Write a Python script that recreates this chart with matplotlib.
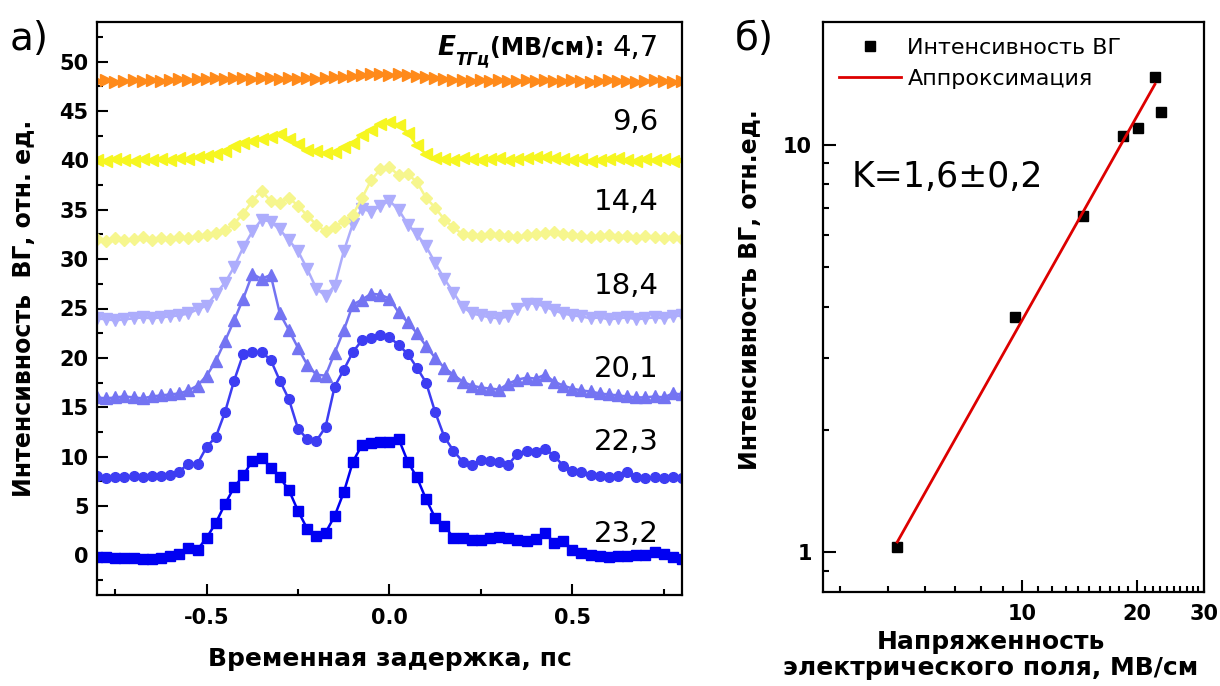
import numpy as np
import matplotlib
matplotlib.use('Agg')
import matplotlib.pyplot as plt
import matplotlib.transforms as mtransforms
from matplotlib.ticker import FixedLocator, FixedFormatter, MultipleLocator, NullFormatter

plt.rcParams['font.family'] = ['DejaVu Sans']

# временная задержка, пс (шаг сканирования 0.025 пс)
delay = np.linspace(-0.8, 0.8, 65)

# сигналы ВГ (со смещением по оси Y, как на рисунке)
sig_23_2 = [-0.2, -0.2, -0.3, -0.3, -0.3, -0.4, -0.4, -0.3, -0.1, 0.2, 0.8, 0.6, 1.8, 3.3, 5.2, 6.9,
            8.1, 9.6, 9.9, 8.9, 7.9, 6.6, 4.5, 2.7, 2.0, 2.3, 4.0, 6.4, 9.5, 11.2, 11.4, 11.5, 11.5,
            11.8, 9.5, 7.9, 5.7, 3.8, 3.0, 1.8, 1.8, 1.6, 1.6, 1.8, 1.9, 1.8, 1.6, 1.5, 1.7, 2.3, 1.3,
            1.5, 0.6, 0.3, 0.0, -0.1, -0.2, -0.1, -0.1, 0.0, 0.0, 0.4, 0.1, -0.2, -0.4]
sig_22_3 = [8.0, 7.8, 7.9, 7.9, 8.0, 7.9, 8.0, 8.0, 8.1, 8.5, 9.3, 9.3, 11.0, 12.0, 14.5, 17.7,
            20.4, 20.6, 20.6, 19.8, 17.7, 15.8, 12.8, 11.8, 11.6, 13.0, 17.1, 18.8, 20.6, 21.8, 22.0,
            22.3, 22.1, 21.3, 20.4, 19.0, 17.5, 14.5, 12.0, 10.6, 9.5, 9.2, 9.7, 9.6, 9.5, 9.2, 10.3,
            10.6, 10.5, 10.8, 10.1, 9.1, 8.6, 8.4, 8.1, 8.0, 7.9, 8.0, 8.4, 7.9, 7.8, 7.9, 7.8, 7.9, 7.8]
sig_20_1 = [16.0, 15.9, 16.0, 16.1, 16.0, 15.9, 16.1, 16.2, 16.3, 16.4, 16.7, 17.2, 18.2, 19.7,
            21.7, 23.8, 26.0, 28.5, 28.0, 28.4, 24.5, 22.8, 21.0, 19.3, 18.3, 18.2, 20.5, 22.8, 25.4,
            25.9, 26.5, 26.4, 26.0, 24.6, 23.6, 22.5, 21.2, 20.0, 19.0, 18.3, 17.6, 17.2, 17.0, 16.9,
            16.8, 17.4, 17.8, 18.0, 17.9, 18.3, 17.6, 17.2, 16.9, 16.7, 16.6, 16.4, 16.3, 16.2, 16.1,
            16.0, 16.0, 16.1, 16.0, 16.4, 16.3]
sig_18_4 = [24.0, 23.9, 23.8, 23.9, 24.0, 24.1, 24.0, 24.1, 24.2, 24.3, 24.5, 24.9, 25.3, 26.5,
            27.6, 29.2, 31.2, 32.8, 34.0, 33.8, 33.0, 31.9, 30.8, 29.0, 27.0, 26.3, 27.3, 30.8, 33.6,
            35.1, 34.8, 35.4, 35.9, 35.0, 33.5, 32.5, 31.3, 29.6, 28.0, 26.6, 25.2, 24.5, 24.3, 24.1,
            24.0, 24.2, 25.0, 25.5, 25.5, 25.2, 24.8, 24.5, 24.3, 24.2, 24.0, 24.1, 23.9, 24.0, 24.1,
            23.9, 24.0, 24.1, 24.0, 24.2, 24.3]
sig_14_4 = [32.0, 31.8, 32.1, 31.9, 32.0, 32.2, 31.9, 32.1, 32.0, 32.2, 32.1, 32.3, 32.4, 32.6,
            32.9, 33.6, 34.6, 35.9, 36.9, 35.9, 35.7, 36.2, 35.4, 34.4, 33.5, 32.8, 33.2, 33.9, 34.5,
            36.2, 38.0, 39.1, 39.3, 38.5, 38.6, 37.8, 36.2, 35.2, 34.0, 33.2, 32.5, 32.4, 32.3, 32.5,
            32.4, 32.3, 32.2, 32.4, 32.5, 32.6, 32.7, 32.5, 32.4, 32.3, 32.2, 32.3, 32.4, 32.2, 32.3,
            32.1, 32.3, 32.2, 32.1, 32.2, 32.0]
sig_9_6 = [40.0, 39.9, 40.1, 40.0, 39.9, 40.1, 40.0, 40.1, 40.0, 40.2, 40.1, 40.3, 40.4, 40.6,
           40.9, 41.4, 41.8, 42.0, 42.2, 42.4, 42.7, 42.2, 41.7, 41.0, 40.9, 40.7, 40.8, 41.3, 41.8,
           42.6, 43.1, 43.7, 43.9, 43.6, 42.8, 41.5, 40.6, 40.2, 40.1, 40.0, 40.2, 40.1, 40.0, 40.1,
           40.2, 40.0, 40.1, 40.2, 40.3, 40.3, 40.2, 40.1, 40.0, 40.1, 39.9, 40.0, 40.1, 40.2, 40.0,
           39.9, 40.1, 40.0, 40.1, 39.9, 40.0]
sig_4_7 = [48.0, 48.1, 47.9, 48.0, 48.1, 48.0, 48.1, 48.0, 48.1, 48.2, 48.1, 48.2, 48.2, 48.3,
           48.2, 48.3, 48.3, 48.2, 48.3, 48.3, 48.2, 48.3, 48.2, 48.3, 48.2, 48.3, 48.4, 48.4, 48.5,
           48.6, 48.7, 48.7, 48.6, 48.7, 48.6, 48.5, 48.4, 48.3, 48.2, 48.1, 48.1, 48.0, 48.1, 48.0,
           48.1, 48.0, 48.0, 48.1, 48.0, 48.1, 48.0, 48.0, 48.1, 48.0, 47.9, 48.0, 48.1, 48.0, 48.0,
           47.9, 48.0, 48.1, 48.0, 47.9, 48.0]

field_labels = ['23,2', '22,3', '20,1', '18,4', '14,4', '9,6', '4,7']

# правая панель: интенсивность ВГ от напряженности поля
fields = [4.7, 9.6, 14.4, 18.4, 20.1, 22.3, 23.2]
shg_int = [1.03, 3.79, 6.68, 10.5, 11.0, 14.7, 12.0]
fit_k = 1.66
fit_a = 0.0813
fit_range = [4.7, 22.3]

fig = plt.figure(figsize=(12.2, 6.86), dpi=100)
ax1 = fig.add_axes([97 / 1220, 1 - 595 / 686, 585 / 1220, 573 / 686])
ax2 = fig.add_axes([823 / 1220, 1 - 592 / 686, 381 / 1220, 570 / 686])

# ----- а) -----
signals = [sig_23_2, sig_22_3, sig_20_1, sig_18_4, sig_14_4, sig_9_6, sig_4_7]
markers = ['s', 'o', '^', 'v', 'D', '<', '>']
colors = ['#0000f2', '#3d3df2', '#7474f2', '#adadfc', '#f6f68e', '#f6f620', '#ff8a1a']
msizes = [7, 7, 8, 8, 6.5, 8, 8]
for sig, m, c, ms in zip(signals, markers, colors, msizes):
    ax1.plot(delay, sig, marker=m, color=c, ms=ms, lw=1.8, mec=c, mfc=c)

ax1.set_xlim(-0.8, 0.8)
ax1.set_ylim(-4, 54)
ax1.set_xticks([-0.5, 0.0, 0.5])
ax1.set_xticklabels(['-0.5', '0.0', '0.5'], fontweight='bold', fontsize=15)
ax1.xaxis.set_minor_locator(MultipleLocator(0.25))
ax1.set_yticks(np.arange(0, 51, 5))
ax1.set_yticklabels([str(v) for v in range(0, 51, 5)], fontweight='bold', fontsize=15)
ax1.yaxis.set_minor_locator(MultipleLocator(2.5))
ax1.tick_params(which='major', direction='in', length=8, width=1.5)
ax1.tick_params(which='minor', direction='in', length=4, width=1.5)
ax1.tick_params(axis='x', which='major', pad=9)
ax1.tick_params(axis='y', which='major', pad=6)
ax1.tick_params(top=False, right=False, which='both')
for s in ax1.spines.values():
    s.set_linewidth(1.6)
ax1.set_xlabel('Временная задержка, пс', fontsize=18, fontweight='bold', labelpad=14)
ax1.set_ylabel('Интенсивность  ВГ, отн. ед.', fontsize=17, fontweight='bold')
ax1.yaxis.set_label_coords(-0.105, 0.5)

blend = mtransforms.blended_transform_factory(ax1.transAxes, ax1.transData)
label_y = [2.2, 11.5, 18.9, 27.3, 35.8, 43.9, 51.4]
tlabels = []
for lab, ly in zip(field_labels, label_y):
    t = ax1.text(0.96, ly, lab, transform=blend, ha='right', va='center', fontsize=21)
    tlabels.append(t)
t_unit = ax1.annotate('(МВ/см): ', xy=(0, 0.5), xycoords=tlabels[-1], ha='right', va='center',
                      fontsize=17, fontweight='bold')
t_sub = ax1.annotate('ТГц', xy=(0, 0.02), xycoords=t_unit, ha='right', va='center',
                     fontsize=12, fontweight='bold', fontstyle='italic')
ax1.annotate('E', xy=(0, 0.5), xycoords=(t_sub, t_unit), ha='right', va='center',
             fontsize=19, fontweight='bold', fontstyle='italic')

# ----- б) -----
ax2.loglog(fields, shg_int, 's', color='black', ms=7.5, label='Интенсивность ВГ')
fx = np.array(fit_range)
ax2.loglog(fx, fit_a * fx ** fit_k, color='#dd0000', lw=2, label='Аппроксимация')
ax2.set_xlim(3, 30)
ax2.set_ylim(0.8, 20)
ax2.xaxis.set_major_locator(FixedLocator([10, 20, 30]))
ax2.xaxis.set_major_formatter(FixedFormatter(['10', '20', '30']))
ax2.xaxis.set_minor_locator(FixedLocator([10 / 9 * n for n in range(3, 9)] + list(range(11, 30))))
ax2.xaxis.set_minor_formatter(NullFormatter())
ax2.yaxis.set_major_locator(FixedLocator([1, 10]))
ax2.yaxis.set_major_formatter(FixedFormatter(['1', '10']))
ax2.yaxis.set_minor_locator(FixedLocator([0.9] + list(range(2, 10))))
ax2.yaxis.set_minor_formatter(NullFormatter())
ax2.tick_params(which='major', direction='in', length=9, width=1.5, labelsize=15)
ax2.tick_params(which='minor', direction='in', length=4.5, width=1.5)
ax2.tick_params(axis='x', which='major', pad=9)
ax2.tick_params(axis='y', which='major', pad=8)
for lab in ax2.get_xticklabels() + ax2.get_yticklabels():
    lab.set_fontweight('bold')
for s in ax2.spines.values():
    s.set_linewidth(1.6)
ax2.legend(loc='upper left', frameon=False, fontsize=16, handlelength=2.8, numpoints=1,
           borderaxespad=0.3, handletextpad=0.3, labelspacing=0.5)
ax2.text(0.075, 0.728, 'K=1,6±0,2', transform=ax2.transAxes, fontsize=25, va='center')
ax2.set_xlabel('Напряженность\nэлектрического поля, МВ/см', fontsize=18, fontweight='bold',
               linespacing=1.1)
ax2.xaxis.set_label_coords(0.44, -0.066)
ax2.set_ylabel('Интенсивность ВГ, отн.ед.', fontsize=17, fontweight='bold')
ax2.yaxis.set_label_coords(-0.16, 0.53)

fig.text(0.008, 0.927, 'а)', fontsize=28, va='baseline')
fig.text(0.602, 0.927, 'б)', fontsize=28, va='baseline')

fig.savefig('out.png', dpi=100)
